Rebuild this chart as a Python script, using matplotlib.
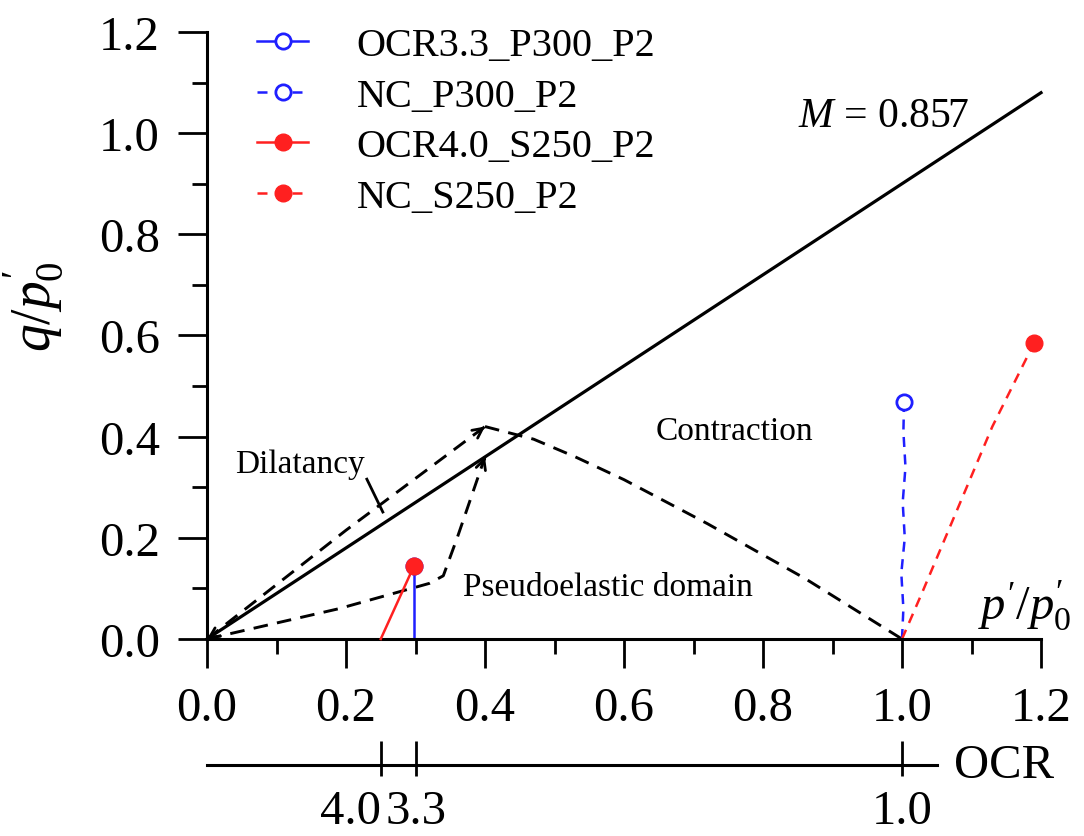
import matplotlib.pyplot as plt
from matplotlib.ticker import MultipleLocator, FormatStrFormatter
from matplotlib.legend_handler import HandlerLine2D

plt.rcParams['font.family'] = 'Liberation Serif'
plt.rcParams['mathtext.fontset'] = 'custom'
plt.rcParams['mathtext.rm'] = 'Liberation Serif'
plt.rcParams['mathtext.it'] = 'Liberation Serif:italic'

# critical state line, M = 0.857
csl_x = [0.0, 1.2]
csl_y = [0.0, 1.08]

# schematic stress paths (black dashed)
dil_x = [0.0, 0.20, 0.40]
dil_y = [0.0, 0.215, 0.42]
pse_x = [0.0, 0.19, 0.32, 0.34, 0.36, 0.40]
pse_y = [0.0, 0.06, 0.11, 0.125, 0.20, 0.36]
con_x = [0.40, 0.47, 0.53, 0.60, 0.72, 0.86, 1.0]
con_y = [0.42, 0.395, 0.36, 0.315, 0.228, 0.12, 0.0]
dil_tick_x = [0.23, 0.253]
dil_tick_y = [0.316, 0.251]

# test results
ocr33_x = [0.298, 0.298, 0.298]
ocr33_y = [0.0, 0.07, 0.145]
ncp_x = [1.0, 1.002, 0.999, 1.004, 1.001, 1.005, 1.002, 1.003]
ncp_y = [0.0, 0.06, 0.13, 0.20, 0.27, 0.34, 0.41, 0.469]
ocr40_x = [0.25, 0.298]
ocr40_y = [0.0, 0.145]
ncs_x = [1.0, 1.03, 1.07, 1.13, 1.19]
ncs_y = [0.0, 0.095, 0.225, 0.42, 0.585]

# OCR scale
ocr_pos = [0.25, 0.30, 1.0]
ocr_labels = ['4.0', '3.3', '1.0']


class EndMarker(HandlerLine2D):
    def get_xdata(self, legend, xdescent, ydescent, width, height, fontsize):
        xdata, _ = super().get_xdata(legend, xdescent, ydescent, width, height, fontsize)
        return xdata, [-xdescent + width]


def head(ax, x0, y0, x1, y1):
    ax.annotate('', xy=(x1, y1), xytext=(x1 - 0.03 * (x1 - x0), y1 - 0.03 * (y1 - y0)),
                arrowprops=dict(arrowstyle='->,head_length=0.7,head_width=0.35',
                                lw=2, color='black', shrinkA=0, shrinkB=0),
                annotation_clip=False)


fig = plt.figure(figsize=(10.84, 8.37), dpi=100)
ax = fig.add_axes([207 / 1084, 1 - 640 / 837, 834 / 1084, 607 / 837])

ax.plot(csl_x, csl_y, color='black', lw=2.3, clip_on=False)
dash = (0, (5, 3.2))
ax.plot(dil_x, dil_y, color='black', lw=2.1, ls=dash, clip_on=False)
ax.plot(pse_x, pse_y, color='black', lw=2.1, ls=dash, clip_on=False)
ax.plot(con_x, con_y, color='black', lw=2.1, ls=dash, clip_on=False)
ax.plot(dil_tick_x, dil_tick_y, color='black', lw=2)
head(ax, dil_x[-2], dil_y[-2], dil_x[-1], dil_y[-1])
head(ax, pse_x[-2], pse_y[-2], pse_x[-1], pse_y[-1])
head(ax, 0.1, 0.09, 0.0, 0.0)

l1, = ax.plot(ocr33_x, ocr33_y, color='#1f1fff', lw=1.8, marker='o', mfc='white',
              mec='#1f1fff', mew=2, ms=11, markevery=[-1], clip_on=False,
              label='OCR3.3_P300_P2')
l2, = ax.plot(ncp_x, ncp_y, color='#1f1fff', lw=1.8, ls=(0, (4, 3)), marker='o', mfc='white',
              mec='#1f1fff', mew=2, ms=11, markevery=[-1], clip_on=False,
              label='NC_P300_P2')
l3, = ax.plot(ocr40_x, ocr40_y, color='#ff2020', lw=1.8, marker='o', mfc='#ff2020',
              mec='#ff2020', ms=12, markevery=[-1], clip_on=False, zorder=3,
              label='OCR4.0_S250_P2')
l4, = ax.plot(ncs_x, ncs_y, color='#ff2020', lw=1.8, ls=(0, (4, 3)), marker='o',
              mfc='#ff2020', mec='#ff2020', ms=12, markevery=[-1], clip_on=False,
              label='NC_S250_P2')

ax.set_xlim(0, 1.2)
ax.set_ylim(0, 1.2)
for s in ['top', 'right']:
    ax.spines[s].set_visible(False)
for s in ['left', 'bottom']:
    ax.spines[s].set_linewidth(2.2)
ax.xaxis.set_major_locator(MultipleLocator(0.2))
ax.xaxis.set_minor_locator(MultipleLocator(0.1))
ax.yaxis.set_major_locator(MultipleLocator(0.2))
ax.yaxis.set_minor_locator(MultipleLocator(0.1))
ax.xaxis.set_major_formatter(FormatStrFormatter('%.1f'))
ax.yaxis.set_major_formatter(FormatStrFormatter('%.1f'))
ax.tick_params(which='major', direction='out', length=21, width=2, labelsize=35, pad=13)
ax.tick_params(which='minor', direction='out', length=11, width=2)

ax.set_ylabel(r"$q/p^{\prime}_{0}$", fontsize=40)
ax.yaxis.set_label_coords(-0.17, 0.55)

ax.text(1.176, 0.069, r"$p^{\prime}/p^{\prime}_{0}$", fontsize=35, ha='center', va='center')
ax.text(0.85, 1.034, r"$M$ = 0.857", fontsize=30, ha='left', va='center')
ax.text(0.04, 0.346, 'Dilatancy', fontsize=24, ha='left', va='center')
ax.text(0.646, 0.411, 'Contraction', fontsize=24, ha='left', va='center')
ax.text(0.369, 0.103, 'Pseudoelastic domain', fontsize=24, ha='left', va='center')

fig.legend(handles=[l1, l2, l3, l4], loc='upper left', bbox_to_anchor=(257 / 1084, 1 - 28 / 837),
           frameon=False, fontsize=29, handlelength=1.27, handletextpad=1.2,
           labelspacing=0.33, borderpad=0, borderaxespad=0,
           handler_map={l: EndMarker(numpoints=1) for l in [l1, l2, l3, l4]})

# OCR scale below the p'/p'0 axis
ax2 = fig.add_axes([207 / 1084, 1 - 766 / 837, 834 / 1084, 0.001])
ax2.set_xlim(0, 1.2)
ax2.patch.set_visible(False)
for s in ['top', 'right', 'left']:
    ax2.spines[s].set_visible(False)
ax2.spines['bottom'].set_linewidth(2.2)
ax2.spines['bottom'].set_bounds(0, 1.05)
ax2.set_yticks([])
ax2.xaxis.remove_overlapping_locs = False
ax2.set_xticks(ocr_pos)
ax2.set_xticklabels(ocr_labels)
ax2.set_xticks(ocr_pos, minor=True)
ax2.tick_params(which='major', direction='in', length=17, width=2, labelsize=35, pad=17)
ax2.tick_params(which='minor', direction='out', length=8, width=2)
ax2.get_xticklabels()[0].set_ha('right')
ax2.text(1.075, 0, 'OCR', fontsize=35, ha='left', va='center', transform=ax2.transData)

fig.savefig('out.png', dpi=100)
